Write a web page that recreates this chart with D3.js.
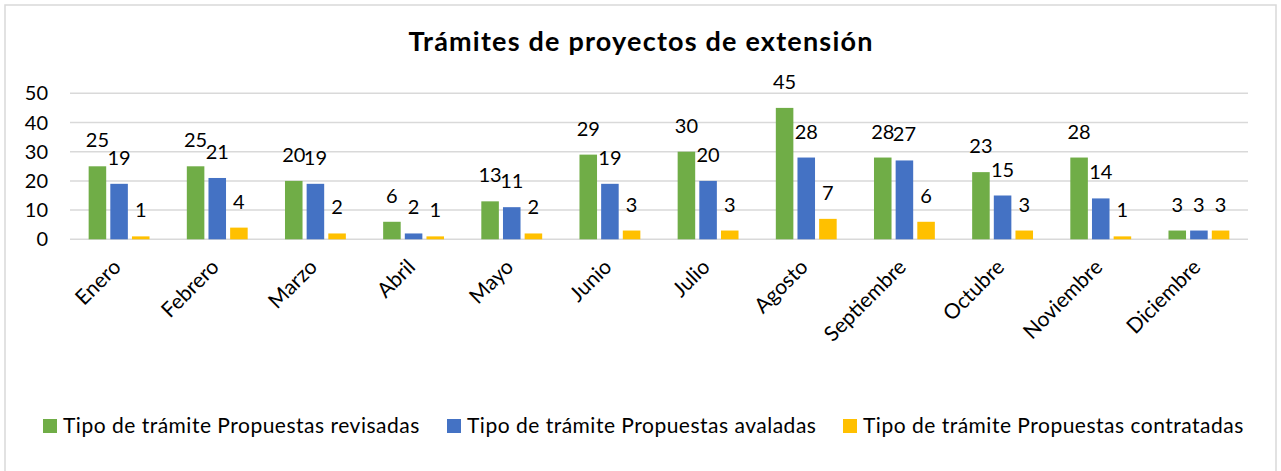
<!DOCTYPE html>
<html lang="es">
<head>
  <meta charset="UTF-8">
  <title>Trámites de proyectos de extensión</title>
  <script src="https://d3js.org/d3.v7.min.js"></script>
  <style>
    body { margin: 0; background: #fff; }
    svg { display: block; font-family: Lato, "Open Sans", sans-serif; }
    .grid line { stroke: #d9d9d9; stroke-width: 1.5; }
    .tick-label, .bar-label { font-size: 20px; fill: #000; }
    .cat-label { font-size: 21px; fill: #000; }
    .title { font-size: 27px; font-weight: bold; letter-spacing: 1.2px; }
    .legend text { font-size: 21px; letter-spacing: 0.5px; }
  </style>
</head>
<body>
  <svg width="1281" height="471"></svg>

  <script>
    const months = ["Enero", "Febrero", "Marzo", "Abril", "Mayo", "Junio", "Julio",
                    "Agosto", "Septiembre", "Octubre", "Noviembre", "Diciembre"];
    const revisadas   = [25, 25, 20, 6, 13, 29, 30, 45, 28, 23, 28, 3];
    const avaladas    = [19, 21, 19, 2, 11, 19, 20, 28, 27, 15, 14, 3];
    const contratadas = [1, 4, 2, 1, 2, 3, 3, 7, 6, 3, 1, 3];
    const seriesNames = [
      "Tipo de trámite Propuestas revisadas",
      "Tipo de trámite Propuestas avaladas",
      "Tipo de trámite Propuestas contratadas"
    ];
    const colors = ["#70ad47", "#4472c4", "#ffc000"];
    const yTicks = [0, 10, 20, 30, 40, 50];

    const series = [revisadas, avaladas, contratadas];
    const rows = months.map((m, i) => ({ month: m, values: series.map(s => s[i]) }));

    const svg = d3.select("svg");

    // chart border
    svg.append("rect")
      .attr("x", 5).attr("y", 5)
      .attr("width", 1271).attr("height", 475)
      .attr("fill", "none")
      .attr("stroke", "#d9d9d9")
      .attr("stroke-width", 1.5);

    svg.append("text")
      .attr("class", "title")
      .attr("x", 641).attr("y", 51)
      .attr("text-anchor", "middle")
      .text("Trámites de proyectos de extensión");

    const x = d3.scaleBand()
      .domain(months)
      .range([70, 1248])
      .paddingInner(0.38)
      .paddingOuter(0.19);

    const x1 = d3.scaleBand()
      .domain(d3.range(series.length))
      .range([0, x.bandwidth()])
      .paddingInner(0.19);

    const y = d3.scaleLinear()
      .domain([0, 50])
      .range([239.3, 93.3]);

    // gridlines
    svg.append("g")
      .attr("class", "grid")
      .selectAll("line")
      .data(yTicks)
      .join("line")
        .attr("x1", 70).attr("x2", 1248)
        .attr("y1", d => y(d)).attr("y2", d => y(d));

    svg.append("g")
      .selectAll("text")
      .data(yTicks)
      .join("text")
        .attr("class", "tick-label")
        .attr("x", 48)
        .attr("y", d => y(d) + 7)
        .attr("text-anchor", "end")
        .text(d => d);

    const groups = svg.append("g")
      .selectAll("g")
      .data(rows)
      .join("g")
        .attr("transform", d => `translate(${x(d.month)},0)`);

    groups.selectAll("rect")
      .data(d => d.values)
      .join("rect")
        .attr("x", (v, i) => x1(i))
        .attr("y", v => y(v))
        .attr("width", x1.bandwidth())
        .attr("height", v => y(0) - y(v))
        .attr("fill", (v, i) => colors[i]);

    groups.selectAll("text")
      .data(d => d.values)
      .join("text")
        .attr("class", "bar-label")
        .attr("x", (v, i) => x1(i) + x1.bandwidth() / 2)
        .attr("y", v => y(v) - 19)
        .attr("text-anchor", "middle")
        .text(v => v);

    // category labels, rotated
    svg.append("g")
      .selectAll("text")
      .data(months)
      .join("text")
        .attr("class", "cat-label")
        .attr("text-anchor", "end")
        .attr("transform", d => `translate(${x(d) + x.bandwidth() / 2 + 3},${y(0) + 29}) rotate(-45)`)
        .text(d => d);

    // legend
    const legendX = [43, 447, 843];
    const legend = svg.append("g")
      .attr("class", "legend")
      .selectAll("g")
      .data(seriesNames)
      .join("g")
        .attr("transform", (d, i) => `translate(${legendX[i]},419)`);

    legend.append("rect")
      .attr("width", 14).attr("height", 14)
      .attr("fill", (d, i) => colors[i]);

    legend.append("text")
      .attr("x", 20).attr("y", 14)
      .text(d => d);
  </script>
</body>
</html>
